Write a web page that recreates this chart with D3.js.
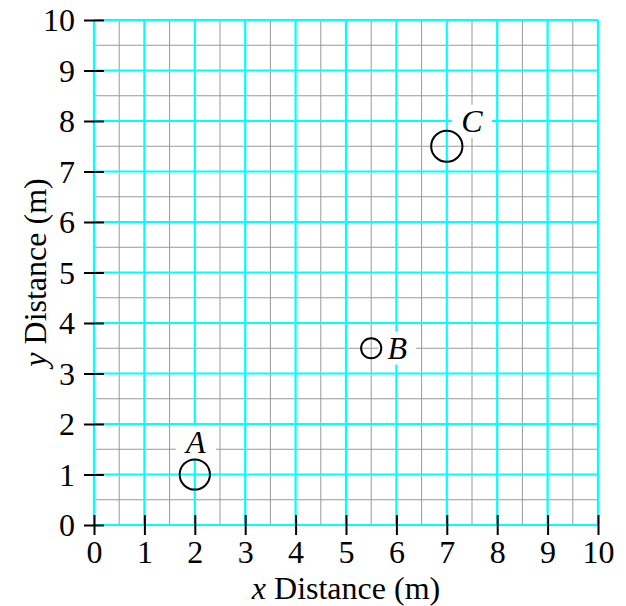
<!DOCTYPE html>
<html>
<head>
<meta charset="utf-8">
<script src="https://cdn.jsdelivr.net/npm/d3@7"></script>
<style>
  body { margin: 0; background: #fff; }
  svg text { font-family: "Liberation Serif", "Times New Roman", serif; }
</style>
</head>
<body>
<script>
// Tick values on both axes (metres)
const xTicks = [0, 1, 2, 3, 4, 5, 6, 7, 8, 9, 10];
const yTicks = [0, 1, 2, 3, 4, 5, 6, 7, 8, 9, 10];
// Minor grid lines at half metres
const minorTicks = [0.5, 1.5, 2.5, 3.5, 4.5, 5.5, 6.5, 7.5, 8.5, 9.5];

// The three marked points
const pointNames = ['A', 'B', 'C'];
const pointX = [2, 5.5, 7];
const pointY = [1, 3.5, 7.5];
const pointR = [0.3, 0.2, 0.31];

const [w, h] = [626, 606];
const margin = { left: 94, right: 28, top: 20, bottom: 81 };
const fs = 32;

const svg = d3.select('body')
    .append('svg')
    .attr('width', w)
    .attr('height', h);

const xScale = d3.scaleLinear().domain([0, 10]).range([margin.left, w - margin.right]);
const yScale = d3.scaleLinear().domain([0, 10]).range([h - margin.bottom, margin.top]);
const unit = xScale(1) - xScale(0);

// Minor grid (gray)
const grid = svg.append('g');
grid.selectAll('.vminor')
    .data(minorTicks)
    .enter().append('line')
    .attr('x1', d => xScale(d)).attr('x2', d => xScale(d))
    .attr('y1', yScale(0)).attr('y2', yScale(10))
    .attr('stroke', '#999').attr('stroke-width', 1);
grid.selectAll('.hminor')
    .data(minorTicks)
    .enter().append('line')
    .attr('y1', d => yScale(d)).attr('y2', d => yScale(d))
    .attr('x1', xScale(0)).attr('x2', xScale(10))
    .attr('stroke', '#999').attr('stroke-width', 1);

// Major grid (cyan)
grid.selectAll('.vmajor')
    .data(xTicks)
    .enter().append('line')
    .attr('x1', d => xScale(d)).attr('x2', d => xScale(d))
    .attr('y1', yScale(0)).attr('y2', yScale(10))
    .attr('stroke', '#00ffff').attr('stroke-width', 2.2);
grid.selectAll('.hmajor')
    .data(yTicks)
    .enter().append('line')
    .attr('y1', d => yScale(d)).attr('y2', d => yScale(d))
    .attr('x1', xScale(0)).attr('x2', xScale(10))
    .attr('stroke', '#00ffff').attr('stroke-width', 2.2);

// Axes
const xAxis = svg.append('g')
    .attr('transform', `translate(0, ${yScale(0)})`)
    .call(d3.axisBottom(xScale).tickValues(xTicks).tickFormat(d3.format('d')));
const yAxis = svg.append('g')
    .attr('transform', `translate(${xScale(0)}, 0)`)
    .call(d3.axisLeft(yScale).tickValues(yTicks).tickFormat(d3.format('d')));

[xAxis, yAxis].forEach(g => {
    g.select('.domain').remove();
    g.attr('font-family', null).attr('font-size', null);
});

xAxis.selectAll('.tick line')
    .attr('y1', -10).attr('y2', 10)
    .attr('stroke', '#000').attr('stroke-width', 2);
xAxis.selectAll('.tick text')
    .attr('y', 38).attr('dy', null)
    .attr('fill', '#000')
    .attr('font-size', fs);

yAxis.selectAll('.tick text')
    .attr('x', -19).attr('dy', '0.33em')
    .attr('fill', '#000')
    .attr('font-size', fs);
yAxis.selectAll('.tick line')
    .attr('x1', -10).attr('x2', 10)
    .attr('stroke', '#000').attr('stroke-width', 2);

// Points
const points = pointNames.map((name, i) => ({ name, x: pointX[i], y: pointY[i], r: pointR[i] }));

// label centre relative to each circle centre (px)
const labelOffset = {
    A: { dx: 1, dy: -32 },
    B: { dx: 26, dy: 0 },
    C: { dx: 25, dy: -25 }
};
const capH = fs * 0.66;

const boxes = svg.append('g');
const circles = svg.append('g');
const labels = svg.append('g');

points.forEach(d => {
    const o = labelOffset[d.name];
    const cx = xScale(d.x) + o.dx;
    const cy = yScale(d.y) + o.dy;
    const t = labels.append('text')
        .attr('x', cx)
        .attr('y', cy + capH / 2)
        .attr('text-anchor', 'middle')
        .attr('font-size', fs)
        .attr('font-style', 'italic')
        .text(d.name);
    const bw = t.node().getBBox().width + 18;
    const bh = capH + 12;
    boxes.append('rect')
        .attr('x', cx - bw / 2)
        .attr('y', cy - bh / 2)
        .attr('width', bw)
        .attr('height', bh)
        .attr('fill', '#fff');
});

circles.selectAll('circle')
    .data(points)
    .enter().append('circle')
    .attr('cx', d => xScale(d.x))
    .attr('cy', d => yScale(d.y))
    .attr('r', d => d.r * unit)
    .attr('fill', 'none')
    .attr('stroke', '#000')
    .attr('stroke-width', 2);

// Axis titles
const xTitle = svg.append('text')
    .attr('x', (xScale(0) + xScale(10)) / 2)
    .attr('y', 599)
    .attr('text-anchor', 'middle')
    .attr('font-size', fs);
xTitle.append('tspan').attr('font-style', 'italic').text('x');
xTitle.append('tspan').text(' Distance (m)');

const yTitle = svg.append('text')
    .attr('transform', `translate(46, ${(yScale(0) + yScale(10)) / 2}) rotate(-90)`)
    .attr('text-anchor', 'middle')
    .attr('font-size', fs);
yTitle.append('tspan').attr('font-style', 'italic').text('y');
yTitle.append('tspan').text(' Distance (m)');
</script>
</body>
</html>
